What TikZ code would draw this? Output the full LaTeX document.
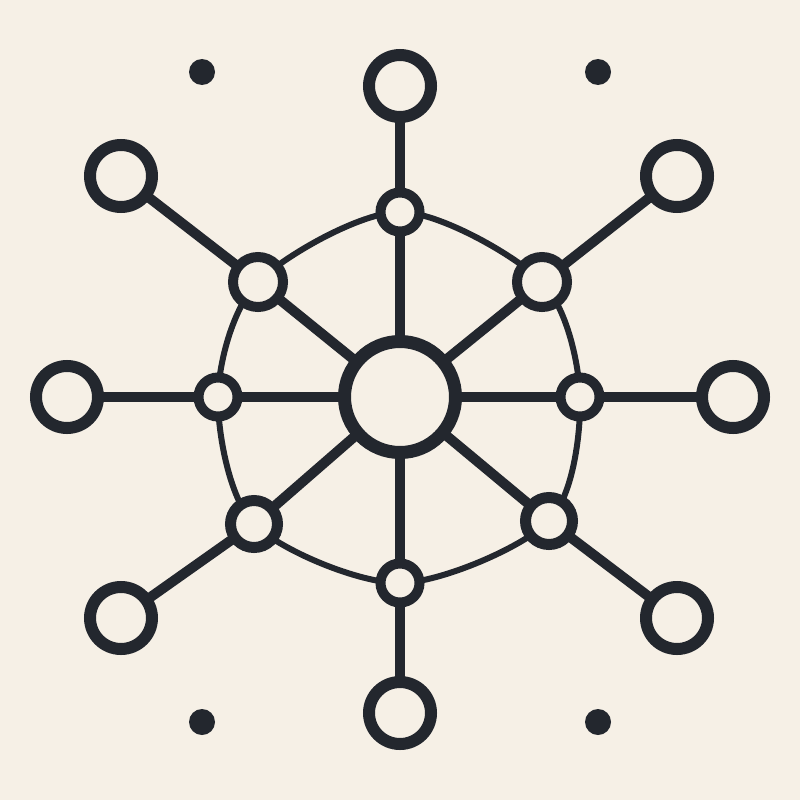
\documentclass[tikz,border=0pt]{standalone}
\usetikzlibrary{backgrounds}
\definecolor{bg}{HTML}{F6F0E6}
\definecolor{ink}{HTML}{23272E}
\begin{document}
\begin{tikzpicture}[x=1pt,y=-1pt,
  hub/.style={circle,draw=ink,fill=bg,inner sep=0pt,line width=13pt,minimum size=111pt},
  outer/.style={circle,draw=ink,fill=bg,inner sep=0pt,line width=12pt,minimum size=62pt},
  midsmall/.style={circle,draw=ink,fill=bg,inner sep=0pt,line width=10pt,minimum size=39pt},
  midbig/.style={circle,draw=ink,fill=bg,inner sep=0pt,line width=10pt,minimum size=50pt},
  midlow/.style={circle,draw=ink,fill=bg,inner sep=0pt,line width=11pt,minimum size=47pt},
  dot/.style={circle,fill=ink,inner sep=0pt,minimum size=26pt},
  spoke/.style={draw=ink,line width=10pt},
  ring/.style={draw=ink,line width=6pt}]
\useasboundingbox (0,0) rectangle (800,800);
% nodes
\node[hub] (c) at (400,397) {};
\node[outer] (o1) at (400,86) {};
\node[outer] (o2) at (677,176) {};
\node[outer] (o3) at (733,397) {};
\node[outer] (o4) at (677,618) {};
\node[outer] (o5) at (400,713) {};
\node[outer] (o6) at (121,618) {};
\node[outer] (o7) at (67,397) {};
\node[outer] (o8) at (121,176) {};
\node[midsmall] (m1) at (400,212) {};
\node[midbig] (m2) at (542,282) {};
\node[midsmall] (m3) at (580,397) {};
\node[midlow] (m4) at (549,521) {};
\node[midsmall] (m5) at (400,583) {};
\node[midlow] (m6) at (254,524) {};
\node[midsmall] (m7) at (218,397) {};
\node[midbig] (m8) at (258,282) {};
\node[dot] (d1) at (202,72) {};
\node[dot] (d2) at (598,72) {};
\node[dot] (d3) at (202,722) {};
\node[dot] (d4) at (598,722) {};
\begin{pgfonlayer}{background}
  \fill[bg] (0,0) rectangle (800,800);
  \draw[ring] plot[smooth cycle] coordinates {(m1.center) (m2.center) (m3.center) (m4.center) (m5.center) (m6.center) (m7.center) (m8.center)};
  \foreach \i in {1,...,8}{
    \draw[spoke] (c.center) -- (m\i.center);
    \draw[spoke] (m\i.center) -- (o\i.center);
  }
\end{pgfonlayer}
\end{tikzpicture}
\end{document}
